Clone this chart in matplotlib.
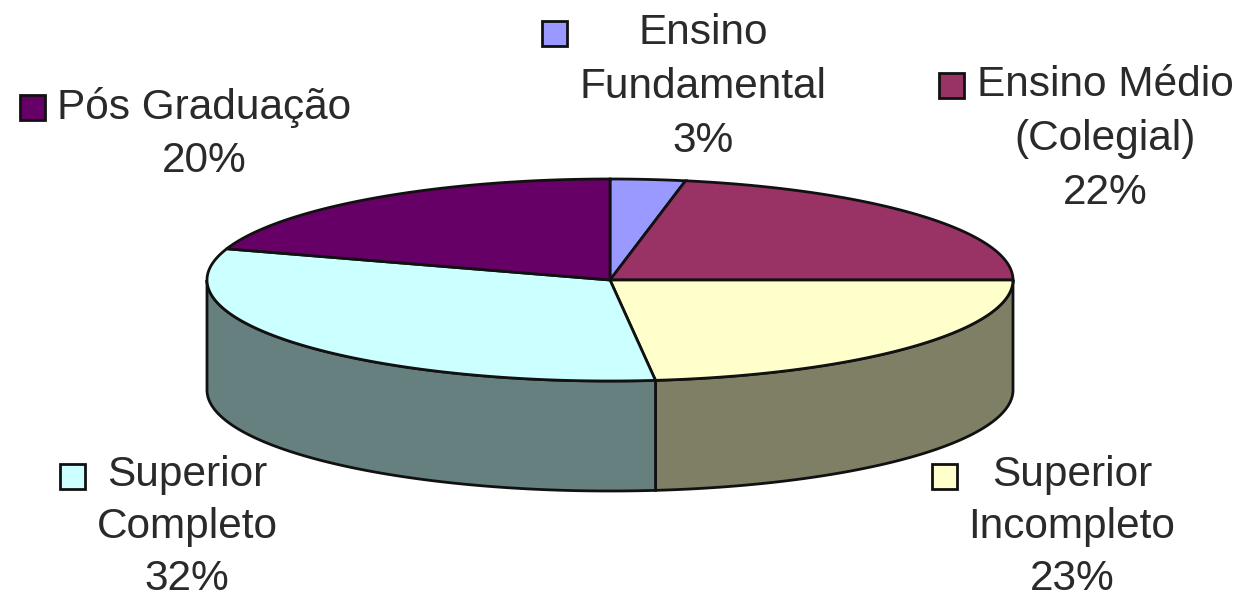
import numpy as np
import matplotlib
matplotlib.use("Agg")
import matplotlib.pyplot as plt
from matplotlib.patches import Rectangle

categories = ["Ensino Fundamental", "Ensino Médio (Colegial)", "Superior Incompleto",
              "Superior Completo", "Pós Graduação"]
values = [3.0, 22.0, 23.2, 31.8, 20.0]
top_colors = ["#9999FF", "#993366", "#FFFFCC", "#CCFFFF", "#660066"]
side_colors = ["#4C4C80", "#4C1933", "#7F7F66", "#668080", "#330033"]

label_lines = [["Ensino", "Fundamental", "3%"],
               ["Ensino Médio", "(Colegial)", "22%"],
               ["Superior", "Incompleto", "23%"],
               ["Superior", "Completo", "32%"],
               ["Pós Graduação", "20%"]]

CX, CY, RX, RY, DEPTH = 610, 280, 403, 101, 110
EDGE = "#111111"

fig = plt.figure(figsize=(12.41, 6.0), dpi=100)
ax = fig.add_axes([0, 0, 1, 1])
ax.set_xlim(0, 1241)
ax.set_ylim(600, 0)
ax.axis("off")

def pt(theta):
    return CX + RX * np.sin(theta), CY - RY * np.cos(theta)

edges = 2 * np.pi * np.concatenate([[0], np.cumsum(values)]) / sum(values)

# side walls (front half only: theta between 90 and 270 degrees)
for i in range(len(values)):
    a = max(edges[i], np.pi / 2)
    b = min(edges[i + 1], 3 * np.pi / 2)
    if b <= a:
        continue
    t = np.linspace(a, b, 200)
    x, y = pt(t)
    ax.fill(np.r_[x, x[::-1]], np.r_[y, y[::-1] + DEPTH],
            facecolor=side_colors[i], edgecolor=EDGE, linewidth=2.0, zorder=2)

# top faces
for i in range(len(values)):
    t = np.linspace(edges[i], edges[i + 1], 200)
    x, y = pt(t)
    ax.fill(np.r_[CX, x], np.r_[CY, y], facecolor=top_colors[i],
            edgecolor=EDGE, linewidth=2.0, zorder=3)

# labels: (text centre x, first line y, line step, key x, key y)
label_pos = [(703, 33, 54, 554, 33),
             (1105, 85, 54, 951, 85),
             (1072, 475, 52, 944, 476),
             (187, 475, 52, 72, 476),
             (204, 107, 54, 32, 107)]
KEY = 25
for lines, (lx, ly, step, kx, ky), c in zip(label_lines, label_pos, top_colors):
    for j, s in enumerate(lines):
        ax.text(lx, ly + j * step, s, ha="center", va="center", fontsize=30.5,
                family="Liberation Sans", color="#2a2a2a")
    ax.add_patch(Rectangle((kx - KEY / 2, ky - KEY / 2), KEY, KEY, facecolor=c,
                           edgecolor=EDGE, linewidth=2.0, zorder=4))

fig.savefig("out.png", dpi=100)
